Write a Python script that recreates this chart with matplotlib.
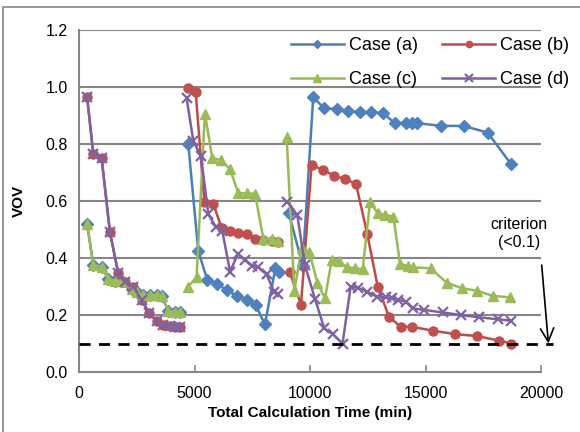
import numpy as np
import matplotlib
matplotlib.use("Agg")
import matplotlib.pyplot as plt
from matplotlib.patches import Rectangle

plt.rcParams['font.family'] = ['Liberation Sans', 'DejaVu Sans']

# Each case is a list of runs (restarts); runs are drawn as separate line pieces.
case_a_time = [
    [350, 620, 980, 1270, 1560, 1850, 2280, 2500, 2780, 3070, 3360, 3580, 3870, 4160, 4370],
    [4730, 5165, 5555, 5960, 6390, 6825, 7260, 7650, 8050, 8500, 8660],
    [9090, 9680, 10140, 10620, 11150, 11660, 12160, 12630, 13150, 13680, 14160, 14430,
     14620, 15670, 16670, 17690, 18700],
]
case_a_vov = [
    [0.52, 0.375, 0.37, 0.325, 0.32, 0.32, 0.29, 0.28, 0.27, 0.27, 0.27, 0.265, 0.215, 0.21, 0.21],
    [0.80, 0.424, 0.323, 0.309, 0.288, 0.267, 0.253, 0.235, 0.167, 0.364, 0.352],
    [0.557, 0.373, 0.964, 0.925, 0.923, 0.917, 0.911, 0.911, 0.909, 0.873, 0.873, 0.873,
     0.873, 0.864, 0.863, 0.84, 0.73],
]

case_b_time = [
    [350, 620, 980, 1340, 1700, 1990, 2350, 2710, 3030, 3360, 3650, 3940, 4160, 4370],
    [4705, 5050, 5425, 5815, 6180, 6540, 6900, 7260, 7620, 7980, 8340, 8630],
    [9120, 9610, 10070, 10550, 11040, 11520, 11990, 12480, 12930, 13420, 13920, 14400,
     15310, 16280, 17240, 18190, 18700],
]
case_b_vov = [
    [0.965, 0.765, 0.75, 0.49, 0.346, 0.317, 0.30, 0.253, 0.207, 0.18, 0.165, 0.161, 0.159, 0.157],
    [0.995, 0.983, 0.598, 0.59, 0.504, 0.496, 0.489, 0.484, 0.466, 0.463, 0.46, 0.456],
    [0.352, 0.236, 0.727, 0.709, 0.689, 0.677, 0.66, 0.484, 0.30, 0.194, 0.159, 0.159,
     0.145, 0.133, 0.126, 0.11, 0.10],
]

case_c_time = [
    [350, 620, 980, 1270, 1560, 1850, 2280, 2500, 2780, 3070, 3360, 3580, 3870, 4160, 4370],
    [4730, 5090, 5450, 5770, 6150, 6540, 6900, 7260, 7620, 7980, 8340, 8630],
    [8990, 9320, 9640, 9970, 10320, 10650, 10940, 11260, 11590, 11950, 12280, 12600,
     12930, 13250, 13610, 13900, 14230, 14470, 15220, 15920, 16570, 17240, 17910, 18660],
]
case_c_vov = [
    [0.52, 0.375, 0.37, 0.325, 0.32, 0.32, 0.29, 0.28, 0.27, 0.27, 0.27, 0.265, 0.215, 0.21, 0.21],
    [0.30, 0.332, 0.907, 0.75, 0.744, 0.711, 0.627, 0.627, 0.625, 0.468, 0.466, 0.46],
    [0.823, 0.285, 0.434, 0.422, 0.313, 0.258, 0.393, 0.389, 0.367, 0.364, 0.36, 0.598,
     0.557, 0.551, 0.545, 0.379, 0.372, 0.367, 0.364, 0.313, 0.294, 0.285, 0.267, 0.262],
]

case_d_time = [
    [350, 620, 980, 1340, 1700, 1990, 2350, 2710, 3030, 3360, 3650, 3940, 4160, 4370],
    [4660, 4950, 5280, 5600, 5920, 6200, 6540, 6870, 7190, 7500, 7760, 8120, 8450, 8620],
    [9020, 9450, 9780, 10220, 10620, 10980, 11410, 11760, 12090, 12480, 12890, 13290,
     13540, 13820, 14160, 14440, 14930, 15740, 16520, 17320, 18130, 18690],
]
case_d_vov = [
    [0.965, 0.765, 0.75, 0.49, 0.346, 0.317, 0.30, 0.253, 0.207, 0.18, 0.165, 0.161, 0.159, 0.157],
    [0.96, 0.81, 0.757, 0.553, 0.51, 0.496, 0.352, 0.413, 0.393, 0.373, 0.368, 0.343, 0.28, 0.272],
    [0.598, 0.551, 0.375, 0.255, 0.153, 0.133, 0.10, 0.30, 0.294, 0.282, 0.264, 0.262,
     0.258, 0.253, 0.247, 0.223, 0.218, 0.209, 0.20, 0.192, 0.185, 0.18],
]

labels = ["Case (a)", "Case (b)", "Case (c)", "Case (d)"]
criterion = 0.1
x_ticks = [0, 5000, 10000, 15000, 20000]
y_ticks = [0.0, 0.2, 0.4, 0.6, 0.8, 1.0, 1.2]

styles = [
    dict(color="#4A7EBB", mfc="#4F81BD", mec="#4F81BD", marker="D", ms=6.5, mew=1.0),
    dict(color="#BE4B48", mfc="#C0504D", mec="#C0504D", marker="o", ms=6.5, mew=1.0),
    dict(color="#98B954", mfc="#9BBB59", mec="#9BBB59", marker="^", ms=7.5, mew=1.0),
    dict(color="#7D60A0", mfc="#8064A2", mec="#8064A2", marker="x", ms=7.5, mew=1.6),
]

fig = plt.figure(figsize=(5.8, 4.32), dpi=100)
ax = fig.add_axes([79 / 580, 1 - 372 / 432, 462 / 580, 342 / 432])

all_time = [case_a_time, case_b_time, case_c_time, case_d_time]
all_vov = [case_a_vov, case_b_vov, case_c_vov, case_d_vov]
handles = []
for times, vovs, lab, st in zip(all_time, all_vov, labels, styles):
    for k, (t, v) in enumerate(zip(times, vovs)):
        ln, = ax.plot(t, v, lw=1.8, zorder=3, **st, label=lab if k == 0 else None)
        if k == 0:
            handles.append(ln)

ax.set_xlim(0, 20000)
ax.set_ylim(0, 1.2)
ax.set_xticks(x_ticks)
ax.set_yticks(y_ticks)
ax.set_yticklabels([f"{v:.1f}" for v in y_ticks])
ax.tick_params(axis="x", direction="in", length=5, color="#868686", width=1.2,
               labelsize=11.5, pad=10)
ax.tick_params(axis="y", length=0, labelsize=11.5, pad=8)

for gy in y_ticks[1:]:
    ax.axhline(gy, color="#868686", lw=1.5, zorder=1)
for s in ["top", "right"]:
    ax.spines[s].set_visible(False)
for s in ["left", "bottom"]:
    ax.spines[s].set_color("#868686")
    ax.spines[s].set_linewidth(1.5)

ax.set_xlabel("Total Calculation Time (min)", fontsize=11, fontweight="bold", labelpad=4)
ax.set_ylabel("VOV", fontsize=11, fontweight="bold", labelpad=14)

# criterion line and annotation
ax.plot([0, 20500], [criterion, criterion], color="black", lw=2, ls=(0, (4, 3)),
        zorder=4, clip_on=False)
ax.annotate("", xy=(20320, criterion), xytext=(20030, 0.375),
            arrowprops=dict(arrowstyle="->", color="black", lw=1.2,
                            mutation_scale=24, shrinkA=0, shrinkB=0),
            annotation_clip=False)
ax.text(19050, 0.485, "criterion\n(<0.1)", ha="center", va="center", fontsize=11.5,
        linespacing=1.25)

order = [0, 2, 1, 3]
leg = ax.legend([handles[i] for i in order], [labels[i] for i in order], ncol=2,
                loc="upper left", bbox_to_anchor=(0.44, 1.005), frameon=False,
                fontsize=13, markerscale=0.7, handlelength=2.9, labelspacing=0.95,
                columnspacing=1.35, handletextpad=0.3, borderpad=0.0)

# chart border
fig.patches.append(Rectangle((3 / 580, -0.05), 1.2, 1.05 - 7 / 432, transform=fig.transFigure,
                             fill=False, edgecolor="#868686", lw=1.2))

fig.savefig("out.png", dpi=100)
